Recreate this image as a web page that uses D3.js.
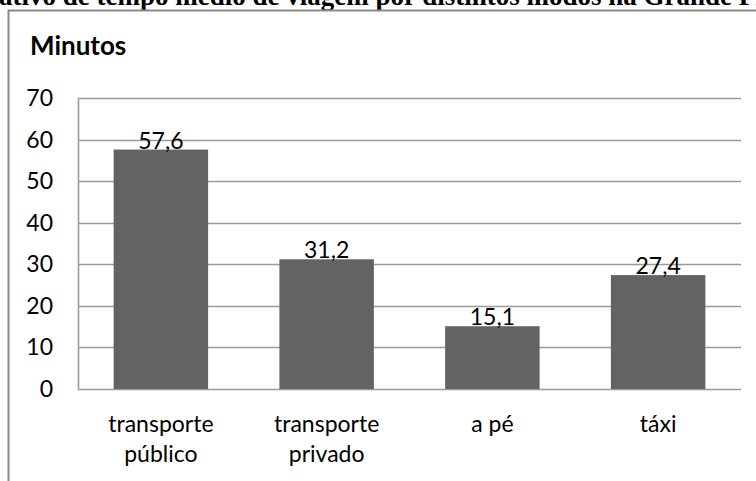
<!DOCTYPE html>
<html>
<head>
<meta charset="utf-8">
<script src="https://cdn.jsdelivr.net/npm/d3@7"></script>
<style>
  body { margin: 0; background: #fff; }
  svg { display: block; }
  text { font-family: Lato, "Open Sans", sans-serif; fill: #000; }
</style>
</head>
<body>
<div class="svg"></div>
<script>
var title = "Comparativo de tempo médio de viagem por distintos modos na Grande Florianópolis";
var unitLabel = "Minutos";
var categories = [["transporte", "público"], ["transporte", "privado"], ["a pé"], ["táxi"]];
var values = [57.6, 31.2, 15.1, 27.4];
var yTicks = [0, 10, 20, 30, 40, 50, 60, 70];

var W = 756, H = 481;
var plot = { left: 78, right: 741, top: 98, bottom: 389 };

var svg = d3.select('body .svg').append('svg')
	.attr('width', W).attr('height', H);

// title, cut off at the top like the page it came from
var t = svg.append('text')
	.attr('y', 5)
	.style('font-family', '"Liberation Serif", "Times New Roman", serif')
	.style('font-weight', 'bold')
	.style('font-size', '27px')
	.text(title);
var pre = svg.append('text')
	.style('font-family', '"Liberation Serif", serif')
	.style('font-weight', 'bold')
	.style('font-size', '27px')
	.text("Compar");
var off = pre.node().getComputedTextLength();
pre.remove();
t.attr('x', -off - 1);

// chart frame
svg.append('rect')
	.attr('x', 8.5).attr('y', 10.5)
	.attr('width', W + 10).attr('height', H + 10)
	.attr('fill', 'none')
	.attr('stroke', '#8a8a8a')
	.attr('stroke-width', 2);

svg.append('text')
	.attr('x', 30).attr('y', 55)
	.style('font-weight', 'bold')
	.style('font-size', '26px')
	.text(unitLabel);

var x = d3.scaleBand()
	.domain(d3.range(categories.length))
	.range([plot.left, plot.right])
	.paddingInner(0.43).paddingOuter(0.215);

var y = d3.scaleLinear()
	.domain([0, 70])
	.range([plot.bottom, plot.top]);

// gridlines
svg.append('g').selectAll('line')
	.data(yTicks)
	.enter().append('line')
	.attr('x1', plot.left).attr('x2', plot.right)
	.attr('y1', function(d){ return Math.round(y(d)) + 0.5; })
	.attr('y2', function(d){ return Math.round(y(d)) + 0.5; })
	.attr('stroke', '#9a9a9a')
	.attr('stroke-width', 1.6);

// left axis line
svg.append('line')
	.attr('x1', plot.left + 0.5).attr('x2', plot.left + 0.5)
	.attr('y1', plot.top).attr('y2', plot.bottom + 1)
	.attr('stroke', '#9a9a9a')
	.attr('stroke-width', 1.6);

// y tick labels
svg.append('g').selectAll('text')
	.data(yTicks)
	.enter().append('text')
	.attr('x', 53)
	.attr('y', function(d){ return y(d) + 8; })
	.attr('text-anchor', 'end')
	.style('font-size', '23px')
	.text(function(d){ return d; });

// bars
svg.append('g').selectAll('rect')
	.data(values)
	.enter().append('rect')
	.attr('x', function(d, i){ return x(i); })
	.attr('y', function(d){ return y(d); })
	.attr('width', x.bandwidth())
	.attr('height', function(d){ return y(0) - y(d); })
	.attr('fill', '#636363');

// value labels
svg.append('g').selectAll('text')
	.data(values)
	.enter().append('text')
	.attr('x', function(d, i){ return x(i) + x.bandwidth() / 2; })
	.attr('y', function(d){ return y(d) - 1; })
	.attr('text-anchor', 'middle')
	.style('font-size', '23px')
	.text(function(d){ return String(d).replace('.', ','); });

// category labels
var cat = svg.append('g').selectAll('text')
	.data(categories)
	.enter().append('text')
	.attr('text-anchor', 'middle')
	.attr('transform', function(d, i){ return 'translate(' + (x(i) + x.bandwidth() / 2) + ',432)'; })
	.style('font-size', '23px');
cat.selectAll('tspan')
	.data(function(d){ return d; })
	.enter().append('tspan')
	.attr('x', 0)
	.attr('y', function(d, i){ return i * 30; })
	.text(function(d){ return d; });
</script>
</body>
</html>
